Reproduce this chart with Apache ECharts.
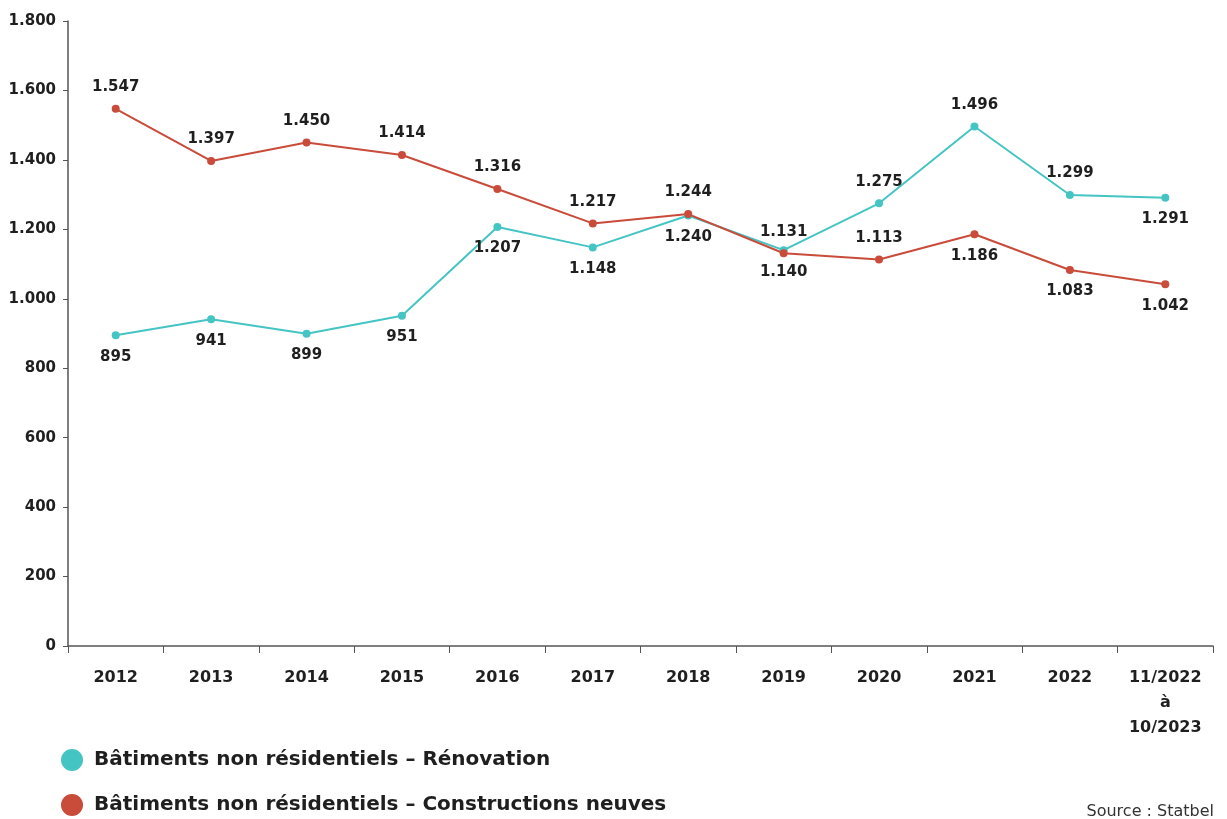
<!DOCTYPE html>
<html><head><meta charset="utf-8">
<script src="https://cdn.jsdelivr.net/npm/echarts@6/dist/echarts.min.js"></script>
<style>html,body{margin:0;padding:0;background:#fff}#c{width:1227px;height:819px}</style>
</head><body><div id="c"></div>
<script>
const categories = ['2012','2013','2014','2015','2016','2017','2018','2019','2020','2021','2022','11/2022\nà\n10/2023'];
const renovation = [895, 941, 899, 951, 1207, 1148, 1240, 1140, 1275, 1496, 1299, 1291];
const renovationLabelPos = ['bottom','bottom','bottom','bottom','bottom','bottom','bottom','bottom','top','top','top','bottom'];
const neuves = [1547, 1397, 1450, 1414, 1316, 1217, 1244, 1131, 1113, 1186, 1083, 1042];
const neuvesLabelPos = ['top','top','top','top','top','top','top','top','top','bottom','bottom','bottom'];
const seriesNames = ['Bâtiments non résidentiels – Rénovation','Bâtiments non résidentiels – Constructions neuves'];
const TEAL = '#45C4C4', RED = '#C94B3A', TXT = '#1f1f1f';
const FONT = '"DejaVu Sans", sans-serif';
const fmt = v => { const s = String(Math.round(v)); return s.length > 3 ? s.slice(0, s.length-3) + '.' + s.slice(-3) : s; };
const mk = (vals, pos) => vals.map((v,i) => ({value: v, label: {position: pos[i]}}));
const legendText = {fontSize: 20, fontWeight: 'bold', color: TXT, fontFamily: FONT, padding: [0,0,0,6]};
const chart = echarts.init(document.getElementById('c'));
chart.setOption({
  animation: false,
  textStyle: {fontFamily: FONT},
  grid: {left: 68, right: 14, top: 21, bottom: 173, containLabel: false},
  legend: [
    {left: 61, top: 749, padding: 0, itemWidth: 22, itemHeight: 22, icon: 'circle', textStyle: legendText, data: [seriesNames[0]]},
    {left: 61, top: 794, padding: 0, itemWidth: 22, itemHeight: 22, icon: 'circle', textStyle: legendText, data: [seriesNames[1]]}
  ],
  graphic: [{type: 'text', right: 13, top: 804, style: {text: 'Source : Statbel', fontSize: 16, fill: '#333', fontFamily: FONT}}],
  xAxis: {
    type: 'category', data: categories, boundaryGap: true,
    axisLine: {lineStyle: {color: '#555', width: 1.5}},
    axisTick: {show: true, alignWithLabel: false, length: 7, lineStyle: {color: '#555'}},
    axisLabel: {fontSize: 16, fontWeight: 'bold', color: TXT, margin: 19, lineHeight: 25, fontFamily: FONT}
  },
  yAxis: {
    type: 'value', min: 0, max: 1800, interval: 200,
    axisLine: {show: true, lineStyle: {color: '#555', width: 1.5}},
    axisTick: {show: true, length: 5, lineStyle: {color: '#555'}},
    splitLine: {show: false},
    axisLabel: {fontSize: 15, fontWeight: 'bold', color: TXT, margin: 12, formatter: fmt, fontFamily: FONT}
  },
  series: [
    {name: seriesNames[0], type: 'line', data: mk(renovation, renovationLabelPos), color: TEAL,
     symbol: 'circle', symbolSize: 8, lineStyle: {width: 2, color: TEAL}, itemStyle: {color: TEAL},
     label: {show: true, fontSize: 15, fontWeight: 'bold', color: TXT, distance: 10, formatter: p => fmt(p.value), fontFamily: FONT}},
    {name: seriesNames[1], type: 'line', data: mk(neuves, neuvesLabelPos), color: RED,
     symbol: 'circle', symbolSize: 8, lineStyle: {width: 2, color: RED}, itemStyle: {color: RED},
     label: {show: true, fontSize: 15, fontWeight: 'bold', color: TXT, distance: 10, formatter: p => fmt(p.value), fontFamily: FONT}}
  ]
});
</script></body></html>
